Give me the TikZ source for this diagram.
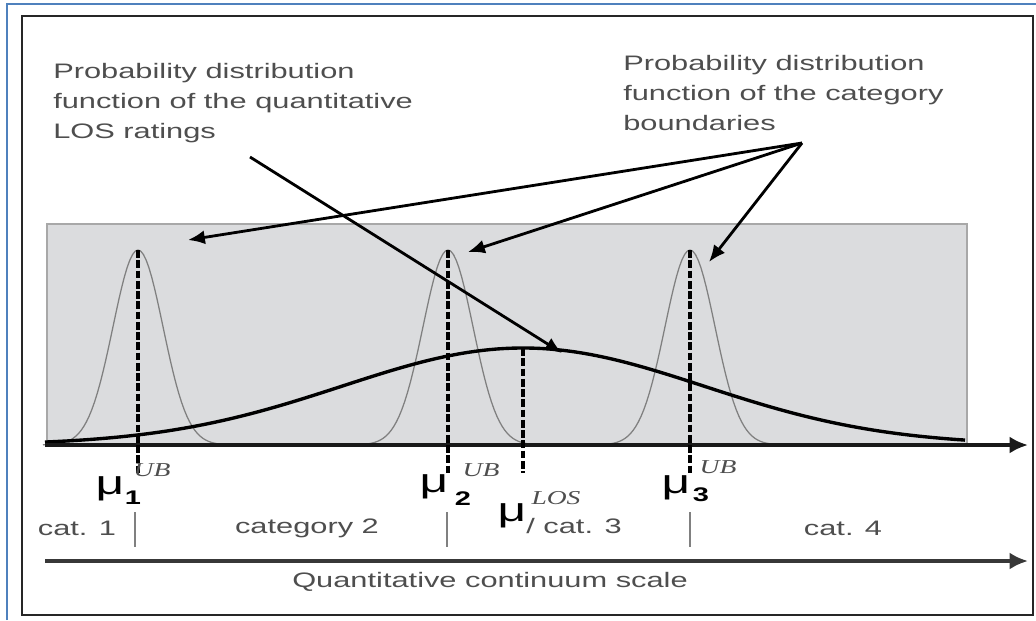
\documentclass[tikz,border=0pt]{standalone}
\usepackage{fontspec}
\setmainfont{Liberation Sans}[FakeStretch=1.47]
\newfontfamily\timesfont{Liberation Serif}[FakeStretch=1.4]
\usetikzlibrary{arrows.meta,positioning}
\definecolor{boxgray}{RGB}{219,220,222}
\definecolor{edgegray}{RGB}{168,168,168}
\definecolor{textgray}{RGB}{78,78,78}
\definecolor{frameblue}{RGB}{79,129,189}
\tikzset{>=latex}
\tikzset{
  lbl/.style={font=\fontsize{14.9}{21.3}\selectfont, text=textgray, inner sep=0pt},
  mulbl/.style={font=\fontsize{24}{24}\selectfont, inner sep=0pt},
  sublbl/.style={font=\fontsize{14}{14}\selectfont\bfseries, inner sep=0pt},
  uplbl/.style={font=\fontsize{14}{14}\timesfont\itshape, text=textgray, inner sep=0pt},
  pointer/.style={line width=2pt, -{Latex[length=12pt,width=10pt]}},
  bound/.style={line width=2.6pt, dash pattern=on 5.5pt off 1.8pt},
  bell/.style={draw=gray, line width=0.9pt},
  sep/.style={draw=gray, line width=1.4pt},
  scalearrow/.style={line width=2.6pt, -{Latex[length=13pt,width=12pt]}},
}

\begin{document}
\begin{tikzpicture}[x=0.025cm, y=-0.025cm]
  \useasboundingbox (0,0) rectangle (1036,620);
  % frames
  \draw[frameblue, line width=1.4pt] (7,620) -- (7,4) -- (1036,4);
  \draw[black!85, line width=1.8pt] (22,16) rectangle (1033,615);
  \filldraw[fill=boxgray, draw=edgegray, line width=2pt] (47,224) rectangle (967,445);
  % category boundaries
  \foreach \m in {138,448,690}
    \draw[bell] plot[domain=\m-95:\m+95, samples=71]
      (\x, {445-195*exp(-0.5*((\x-\m)/25)^2)});
  % LOS ratings
  \draw[line width=2.4pt] plot[domain=45:965, samples=121]
    (\x, {445-97*exp(-0.5*((\x-523)/181)^2)});
  \draw[scalearrow, black!90] (45,445) -- (1028,445);
  \foreach \m in {138,448,690}
    \draw[bound] (\m,250) -- (\m,473);
  \draw[bound] (523,348) -- (523,473);
  \foreach \m in {135,447,690}
    \draw[sep] (\m,512) -- (\m,547);
  \draw[scalearrow, black!78] (45,561) -- (1028,561);

  % texts
  \node[lbl, anchor=north west, align=left] (qtxt) at (53,63)
    {Probability distribution\\function of the quantitative\\LOS ratings};
  \node[lbl, anchor=north west, align=left] (btxt) at (623,55)
    {Probability distribution\\function of the category\\boundaries};
  \coordinate (qstart) at (250,157);
  \coordinate (qtip) at (562,353);
  \coordinate (fan) at (802,143);
  \coordinate (btip1) at (188,240);
  \coordinate (btip2) at (468,252);
  \coordinate (btip3) at (709,262);
  \draw[pointer] (qstart) -- (qtip);
  \foreach \t in {btip1,btip2,btip3}
    \draw[pointer] (fan) -- (\t);

  % labels below the axis
  \node[mulbl] (mu1) at (110,489) {μ};
  \node[sublbl] (s1) at (133,498) {1};
  \node[uplbl] (u1) at (152,470) {UB};
  \node[mulbl] (mu2) at (434,487) {μ};
  \node[sublbl] (s2) at (463,499) {2};
  \node[uplbl] (u2) at (481,470) {UB};
  \node[mulbl] (mulos) at (512,516) {μ};
  \node[uplbl] (ulos) at (556,498) {LOS};
  \node[mulbl] (mu3) at (676,488) {μ};
  \node[sublbl] (s3) at (701,495) {3};
  \node[uplbl] (u3) at (718,467) {UB};
  \node[lbl] (c1) at (77,528) {cat. 1};
  \node[lbl] (c2) at (307,528) {category 2};
  \node[lbl] (c3) at (574,526) {/ cat. 3};
  \node[lbl] (c4) at (843,528) {cat. 4};
  \node[lbl] (qscale) at (490,582) {Quantitative continuum scale};
\end{tikzpicture}
\end{document}
